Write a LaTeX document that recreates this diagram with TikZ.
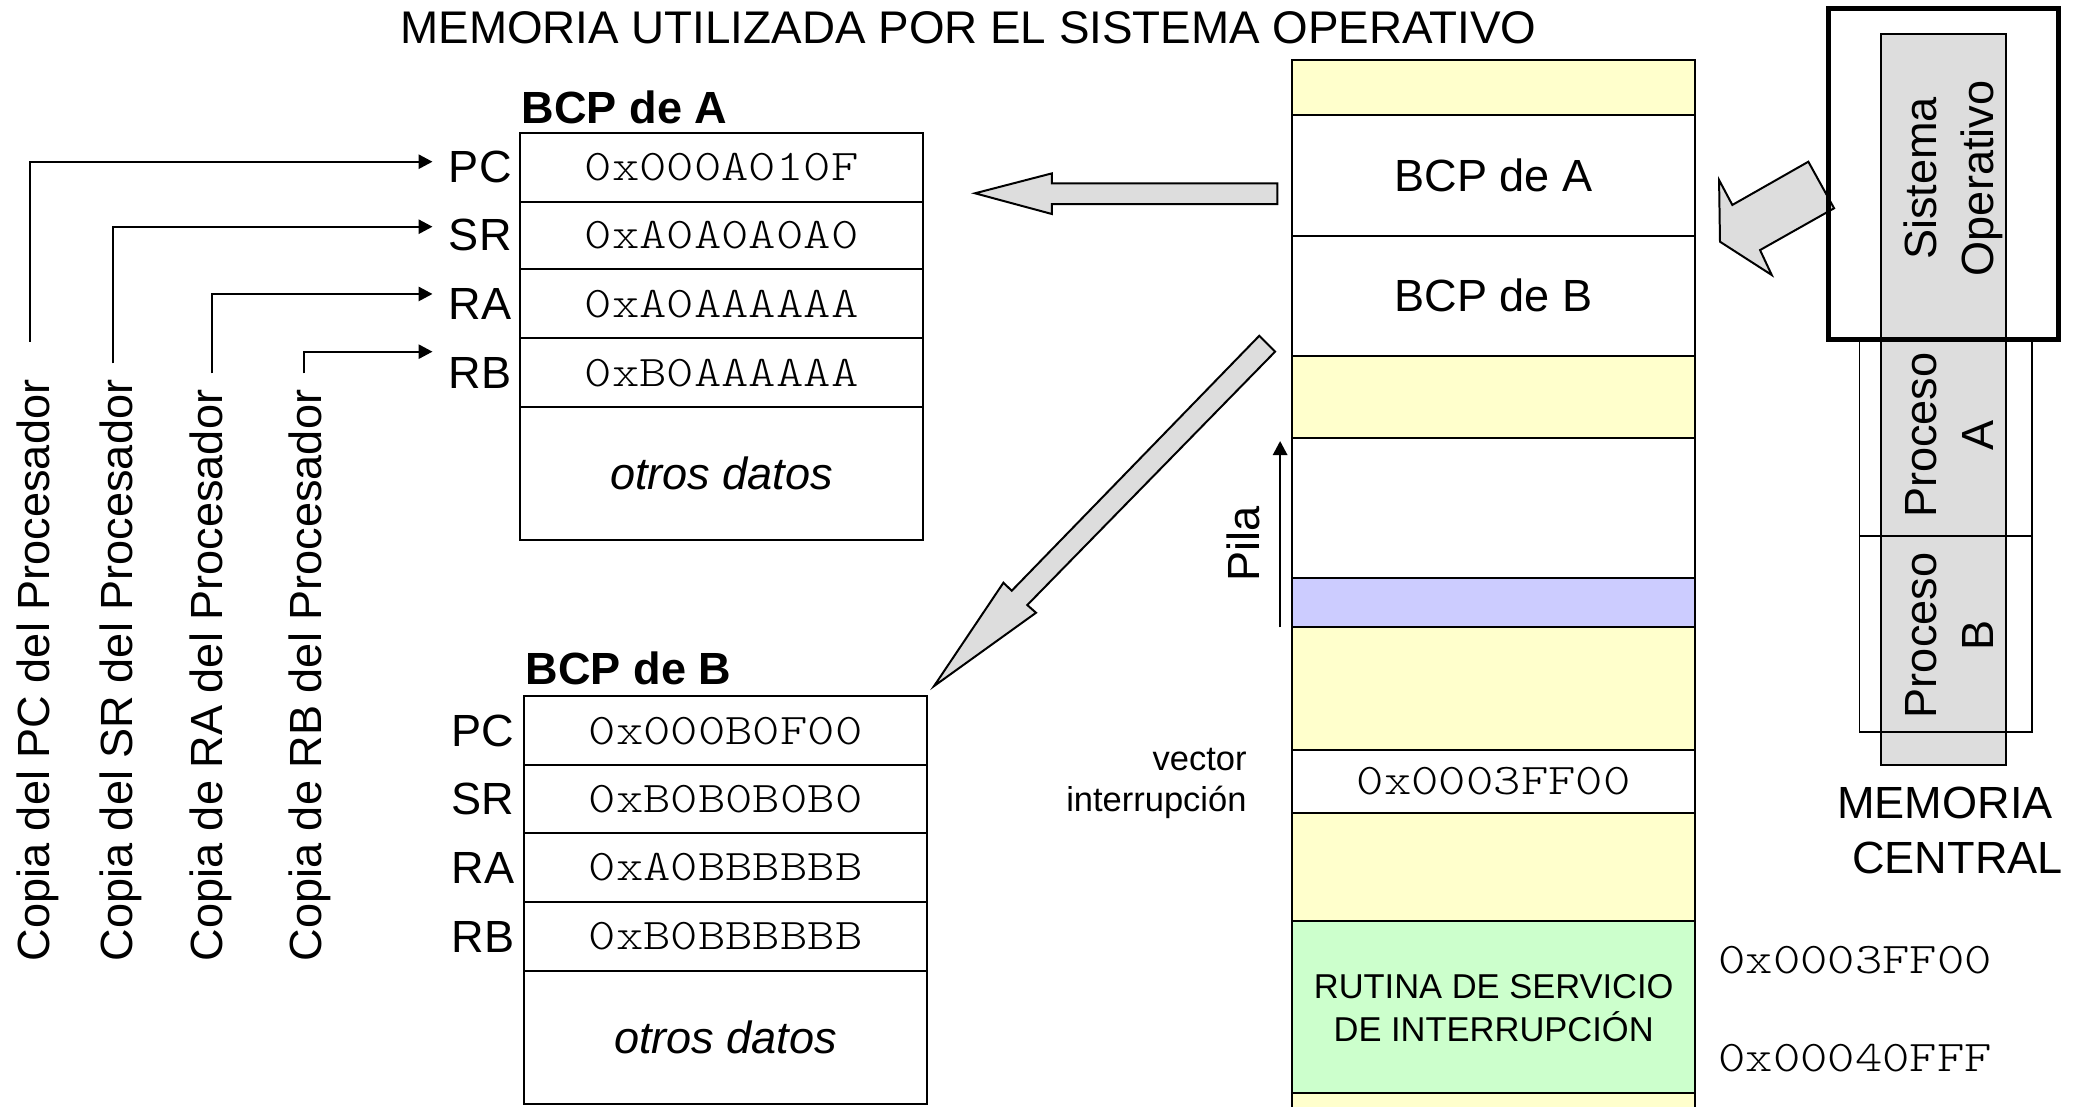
\documentclass[tikz,border=0pt]{standalone}
\usepackage{fontspec}
\setmainfont{Liberation Sans}
\newfontfamily\lightmono{lmmonolt10-regular.otf}
\usetikzlibrary{arrows.meta}
\definecolor{yel}{HTML}{FFFFCC}
\definecolor{blu}{HTML}{CCCCFF}
\definecolor{grn}{HTML}{CCFFCC}
\definecolor{gry}{HTML}{DDDDDD}
\newcommand{\hx}[1]{\scalebox{1.19}[1]{\lightmono #1}}
\tikzset{
  big/.style={font=\fontsize{20.4pt}{25pt}\selectfont, inner sep=0pt},
  bigbold/.style={font=\fontsize{20.4pt}{25pt}\selectfont\bfseries, inner sep=0pt},
  bigit/.style={font=\fontsize{20.4pt}{25pt}\selectfont\itshape, inner sep=0pt},
  small/.style={font=\fontsize{15.6pt}{19pt}\selectfont, inner sep=0pt},
  mono/.style={font=\fontsize{19.8pt}{24pt}\selectfont, inner sep=0pt},
  box/.style={draw=black, line width=0.9pt},
  thinline/.style={draw=black, line width=0.8pt},
  blockarrow/.style={draw=black, fill=gry, line width=0.9pt, line join=miter},
  regarrow/.style={draw=black, line width=0.8pt, -{Triangle[length=6.3pt,width=6.5pt]}},
}
\begin{document}
\begin{tikzpicture}[x=0.6pt,y=-0.6pt]
\clip (0,0) rectangle (1568,834);
\fill[white] (0,0) rectangle (1568,834);

% title
\node[font=\fontsize{20.7pt}{25pt}\selectfont, inner sep=0pt, anchor=base] (title) at (730,33) {MEMORIA UTILIZADA POR EL SISTEMA OPERATIVO};

% memory column
\foreach \ya/\yb/\c in {45/87/yel, 87/178/white, 178/268/white, 268/330/yel, 330/436/white, 436/473/blu, 473/565/yel, 565/613/white, 613/694/yel, 694/824/grn, 824/850/yel}
  \draw[box, fill=\c] (974,\ya) rectangle (1277.5,\yb);
\node[big] (mA) at (1126,132.5) {BCP de A};
\node[big] (mB) at (1126,223) {BCP de B};
\node[mono] (mvec) at (1126,589) {\hx{0x0003FF00}};
\node[small, anchor=base] (rut1) at (1126,753) {RUTINA DE SERVICIO};
\node[small, anchor=base] (rut2) at (1126,785) {DE INTERRUPCIÓN};

% addresses
\node[mono, anchor=west] (adr1) at (1295,724) {\hx{0x0003FF00}};
\node[mono, anchor=west] (adr2) at (1295,798) {\hx{0x00040FFF}};

% pila
\node[big, rotate=90, anchor=base] (pila) at (949.5,410) {Pila};
\coordinate (pilaS) at (965,473);
\coordinate (pilaE) at (965,332.5);
\draw[regarrow] (pilaS) -- (pilaE);

% vector interrupcion
\node[small, anchor=base east] (vec1) at (940,581) {vector};
\node[small, anchor=base east] (vec2) at (940,612) {interrupción};

% BCP de A table
\foreach \ya/\yb in {100/152,152/203,203/255,255/307,307/407}
  \draw[box] (392,\ya) rectangle (696,\yb);
\node[bigbold, anchor=base west] (hA) at (393,93) {BCP de A};
\node[big, anchor=east] (pcA) at (386,126) {PC};
\node[big, anchor=east] (srA) at (386,177.5) {SR};
\node[big, anchor=east] (raA) at (386,229) {RA};
\node[big, anchor=east] (rbA) at (386,281) {RB};
\node[mono] (vA1) at (544,126) {\hx{0x000A010F}};
\node[mono] (vA2) at (544,177.5) {\hx{0xA0A0A0A0}};
\node[mono] (vA3) at (544,229) {\hx{0xA0AAAAAA}};
\node[mono] (vA4) at (544,281) {\hx{0xB0AAAAAA}};
\node[bigit] (oA) at (544,357) {otros datos};

% BCP de B table
\foreach \ya/\yb in {525/577,577/628,628/680,680/732,732/832}
  \draw[box] (395,\ya) rectangle (699,\yb);
\node[bigbold, anchor=base west] (hB) at (396,516) {BCP de B};
\node[big, anchor=east] (pcB) at (388,551) {PC};
\node[big, anchor=east] (srB) at (388,602.5) {SR};
\node[big, anchor=east] (raB) at (388,654) {RA};
\node[big, anchor=east] (rbB) at (388,706) {RB};
\node[mono] (vB1) at (547,551) {\hx{0x000B0F00}};
\node[mono] (vB2) at (547,602.5) {\hx{0xB0B0B0B0}};
\node[mono] (vB3) at (547,654) {\hx{0xA0BBBBBB}};
\node[mono] (vB4) at (547,706) {\hx{0xB0BBBBBB}};
\node[bigit] (oB) at (547,782) {otros datos};

% copia labels
\node[big, rotate=90, anchor=base west] (cp1) at (37.5,725) {Copia del PC del Procesador};
\node[big, rotate=90, anchor=base west] (cp2) at (100,725) {Copia del SR del Procesador};
\node[big, rotate=90, anchor=base west] (cp3) at (168,725) {Copia de RA del Procesador};
\node[big, rotate=90, anchor=base west] (cp4) at (242.5,725) {Copia de RB del Procesador};
\coordinate (l1s) at (22.7,257.6); \coordinate (l1e) at (326,121.9);
\coordinate (l2s) at (85.4,273.9); \coordinate (l2e) at (326,170.9);
\coordinate (l3s) at (160,281.4);  \coordinate (l3e) at (326,221.6);
\coordinate (l4s) at (229.3,281.4); \coordinate (l4e) at (326,265.1);
\draw[regarrow] (l1s) |- (l1e);
\draw[regarrow] (l2s) |- (l2e);
\draw[regarrow] (l3s) |- (l3e);
\draw[regarrow] (l4s) |- (l4e);

% block arrows
\draw[blockarrow] (962.9,138.2) -- (792.9,138.2) -- (792.9,130.7) -- (735,145.7) -- (792.9,161.3) -- (792.9,153.8) -- (962.9,153.8) -- cycle;
\draw[blockarrow] (949.3,253.1) -- (961.2,265.1) -- (774.4,456.1) -- (781,461.9) -- (704.1,517.2) -- (756.4,439.3) -- (762.7,445.3) -- cycle;
\draw[blockarrow] (1363.2,121.9) -- (1382.6,157) -- (1326.8,188.5) -- (1335.6,207.3) -- (1296.6,182.2) -- (1295.9,135.7) -- (1305.9,154.5) -- cycle;

% memoria central
\draw[thinline, fill=gry] (1418,25.6) rectangle (1512,576.7);
\draw[thinline] (1401.7,255.8) rectangle (1532,403.8);
\draw[thinline] (1401.7,403.8) rectangle (1532,551.6);
\draw[line width=2.3pt] (1378.3,6.3) rectangle (1551.7,255.8);
\node[big, rotate=90, anchor=base] (os1) at (1460,134.5) {Sistema};
\node[big, rotate=90, anchor=base] (os2) at (1502.6,134.5) {Operativo};
\node[big, rotate=90, anchor=base] (pa1) at (1460,328) {Proceso};
\node[big, rotate=90, anchor=base] (pa2) at (1502.6,328) {A};
\node[big, rotate=90, anchor=base] (pb1) at (1460,479) {Proceso};
\node[big, rotate=90, anchor=base] (pb2) at (1502.6,479) {B};
\node[big, anchor=base west] (mc1) at (1384.6,617) {MEMORIA};
\node[big, anchor=base west] (mc2) at (1396,658.4) {CENTRAL};
\end{tikzpicture}
\end{document}
